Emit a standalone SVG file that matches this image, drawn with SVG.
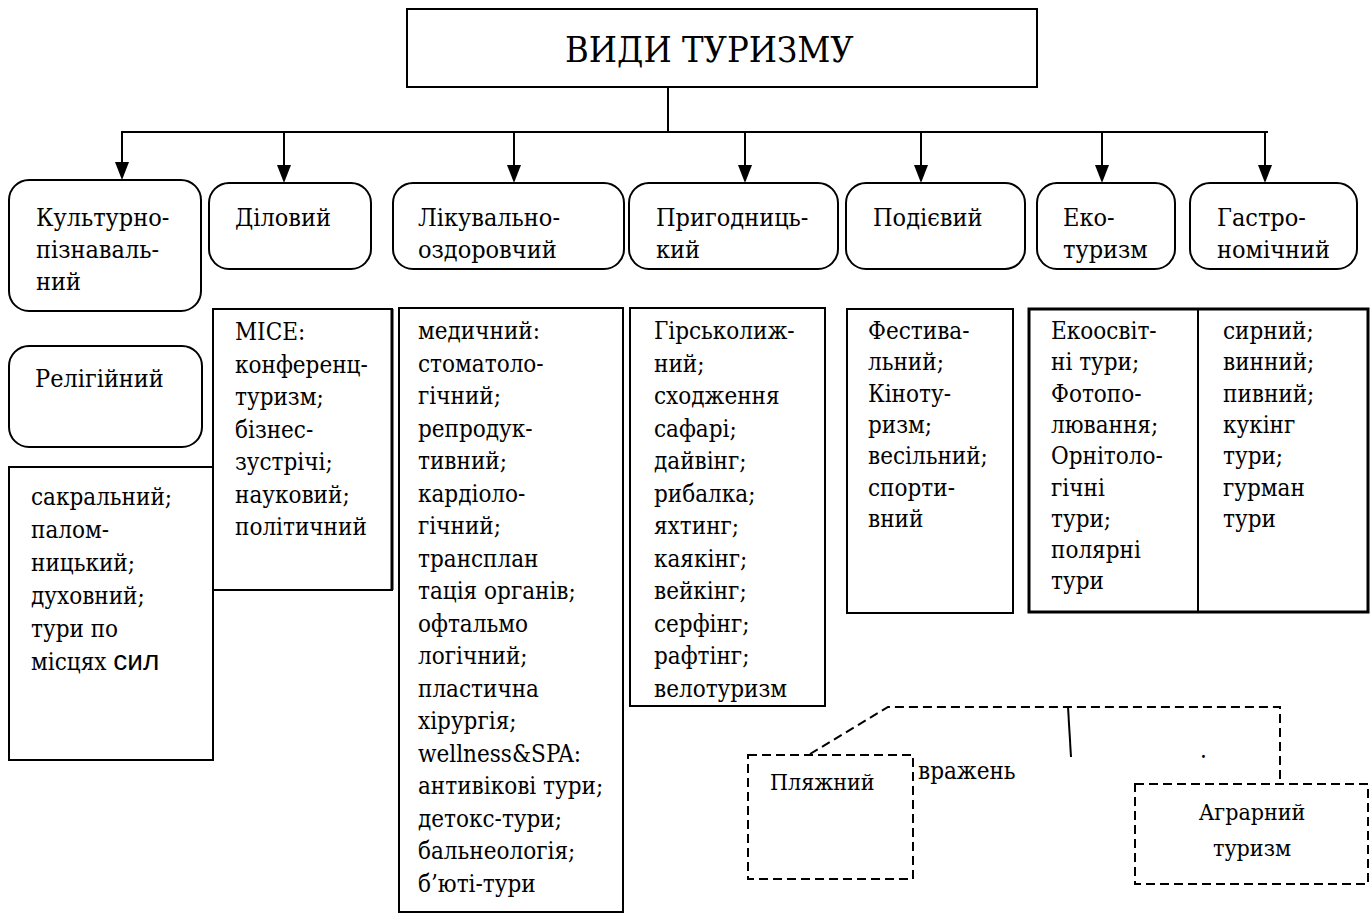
<svg xmlns="http://www.w3.org/2000/svg" width="1371" height="919" viewBox="0 0 1371 919">
<defs>
<style>
.box{fill:#fff;stroke:#000;stroke-width:2}
.thick{fill:#fff;stroke:#000;stroke-width:3}
.dash{fill:#fff;stroke:#000;stroke-width:2;stroke-dasharray:9 5}
.dl{fill:none;stroke:#000;stroke-width:2;stroke-dasharray:9 5}
.ln{fill:none;stroke:#000;stroke-width:2}
.t{font-family:"DejaVu Serif Condensed","DejaVu Serif","Liberation Serif",serif;font-stretch:condensed;font-size:24px;fill:#000}
.n{font-size:25px}
.b{font-size:23px}
.h{font-family:"DejaVu Serif Condensed","DejaVu Serif","Liberation Serif",serif;font-stretch:condensed;font-size:36px;fill:#000}
.s{font-family:"Liberation Sans",Arial,sans-serif;font-stretch:normal;font-size:28px}
</style>
</defs>
<rect width="1371" height="919" fill="#fff"/>

<g id="connectors">
<line class="ln" x1="668" y1="88" x2="668" y2="132"/>
<line class="ln" x1="121" y1="132" x2="1268" y2="132" stroke-width="2.5"/>
<line class="ln" x1="122" y1="132" x2="122" y2="162"/>
<path d="M115,162 L129,162 L122,180 Z"/>
<line class="ln" x1="284" y1="132" x2="284" y2="165"/>
<path d="M277,165 L291,165 L284,183 Z"/>
<line class="ln" x1="514" y1="132" x2="514" y2="165"/>
<path d="M507,165 L521,165 L514,183 Z"/>
<line class="ln" x1="745" y1="132" x2="745" y2="165"/>
<path d="M738,165 L752,165 L745,183 Z"/>
<line class="ln" x1="921" y1="132" x2="921" y2="165"/>
<path d="M914,165 L928,165 L921,183 Z"/>
<line class="ln" x1="1102" y1="132" x2="1102" y2="165"/>
<path d="M1095,165 L1109,165 L1102,183 Z"/>
<line class="ln" x1="1265" y1="132" x2="1265" y2="165"/>
<path d="M1258,165 L1272,165 L1265,183 Z"/>
<polyline class="dl" points="810,754 888,707 1280,707 1280,784"/>
<line class="ln" x1="1068" y1="707" x2="1071" y2="757"/>
</g>

<g id="header">
<rect class="box" x="407" y="9" width="630" height="78"/>
<text class="h" x="565" y="62">ВИДИ ТУРИЗМУ</text>
</g>

<g id="n-kult">
<rect class="box" x="9" y="180" width="192" height="131" rx="20"/>
<text class="t n"><tspan x="36" y="226">Культурно-</tspan><tspan x="36" y="258">пізнаваль-</tspan><tspan x="36" y="290">ний</tspan></text>
</g>
<g id="n-dil">
<rect class="box" x="209" y="183" width="162" height="86" rx="20"/>
<text class="t n" x="235" y="226">Діловий</text>
</g>
<g id="n-lik">
<rect class="box" x="393" y="183" width="231" height="86" rx="20"/>
<text class="t n"><tspan x="418" y="226">Лікувально-</tspan><tspan x="418" y="258">оздоровчий</tspan></text>
</g>
<g id="n-pryg">
<rect class="box" x="629" y="183" width="209" height="86" rx="20"/>
<text class="t n"><tspan x="656" y="226">Пригодниць-</tspan><tspan x="656" y="258">кий</tspan></text>
</g>
<g id="n-pod">
<rect class="box" x="846" y="183" width="179" height="86" rx="20"/>
<text class="t n" x="873" y="226">Подієвий</text>
</g>
<g id="n-eko">
<rect class="box" x="1037" y="183" width="138" height="86" rx="20"/>
<text class="t n"><tspan x="1063" y="226">Еко-</tspan><tspan x="1063" y="258">туризм</tspan></text>
</g>
<g id="n-gastro">
<rect class="box" x="1190" y="183" width="167" height="86" rx="20"/>
<text class="t n"><tspan x="1217" y="226">Гастро-</tspan><tspan x="1217" y="258">номічний</tspan></text>
</g>

<g id="n-rel">
<rect class="box" x="9" y="346" width="193" height="101" rx="20"/>
<text class="t n" x="35" y="387">Релігійний</text>
</g>

<g id="l-sakr">
<rect class="box" x="9" y="467" width="204" height="293"/>
<text class="t"><tspan x="31" y="505">сакральний;</tspan><tspan x="31" y="538">палом-</tspan><tspan x="31" y="571">ницький;</tspan><tspan x="31" y="604">духовний;</tspan><tspan x="31" y="637">тури по</tspan><tspan x="31" y="670">місцях <tspan class="s">сил</tspan></tspan></text>
</g>

<g id="l-mice">
<rect class="box" x="213" y="309" width="179" height="281"/>
<line x1="392" y1="309" x2="392" y2="590" stroke="#000" stroke-width="3"/>
<text class="t"><tspan x="235" y="340">MICE:</tspan><tspan x="235" y="372.5">конференц-</tspan><tspan x="235" y="405">туризм;</tspan><tspan x="235" y="437.5">бізнес-</tspan><tspan x="235" y="470">зустрічі;</tspan><tspan x="235" y="502.5">науковий;</tspan><tspan x="235" y="535">політичний</tspan></text>
</g>

<g id="l-lik">
<rect class="box" x="399" y="308" width="224" height="604"/>
<text class="t"><tspan x="418" y="339">медичний:</tspan><tspan x="418" y="371.5">стоматоло-</tspan><tspan x="418" y="404">гічний;</tspan><tspan x="418" y="436.5">репродук-</tspan><tspan x="418" y="469">тивний;</tspan><tspan x="418" y="501.5">кардіоло-</tspan><tspan x="418" y="534">гічний;</tspan><tspan x="418" y="566.5">трансплан</tspan><tspan x="418" y="599">тація органів;</tspan><tspan x="418" y="631.5">офтальмо</tspan><tspan x="418" y="664">логічний;</tspan><tspan x="418" y="696.5">пластична</tspan><tspan x="418" y="729">хірургія;</tspan><tspan x="418" y="761.5">wellness&amp;SPA:</tspan><tspan x="418" y="794">антивікові тури;</tspan><tspan x="418" y="826.5">детокс-тури;</tspan><tspan x="418" y="859">бальнеологія;</tspan><tspan x="418" y="891.5">б’юті-тури</tspan></text>
</g>

<g id="l-pryg">
<rect class="box" x="630" y="308" width="195" height="398"/>
<text class="t"><tspan x="654" y="339">Гірськолиж-</tspan><tspan x="654" y="371.5">ний;</tspan><tspan x="654" y="404">сходження</tspan><tspan x="654" y="436.5">сафарі;</tspan><tspan x="654" y="469">дайвінг;</tspan><tspan x="654" y="501.5">рибалка;</tspan><tspan x="654" y="534">яхтинг;</tspan><tspan x="654" y="566.5">каякінг;</tspan><tspan x="654" y="599">вейкінг;</tspan><tspan x="654" y="631.5">серфінг;</tspan><tspan x="654" y="664">рафтінг;</tspan><tspan x="654" y="696.5">велотуризм</tspan></text>
</g>

<g id="l-pod">
<rect class="box" x="847" y="309" width="166" height="304"/>
<text class="t"><tspan x="868" y="339">Фестива-</tspan><tspan x="868" y="370.3">льний;</tspan><tspan x="868" y="401.6">Кіноту-</tspan><tspan x="868" y="432.9">ризм;</tspan><tspan x="868" y="464.2">весільний;</tspan><tspan x="868" y="495.5">спорти-</tspan><tspan x="868" y="526.8">вний</tspan></text>
</g>

<g id="l-eko-gastro">
<rect class="thick" x="1029" y="309" width="339" height="303"/>
<line x1="1198" y1="309" x2="1198" y2="612" stroke="#000" stroke-width="2"/>
<text class="t"><tspan x="1051" y="339">Екоосвіт-</tspan><tspan x="1051" y="370.3">ні тури;</tspan><tspan x="1051" y="401.6">Фотопо-</tspan><tspan x="1051" y="432.9">лювання;</tspan><tspan x="1051" y="464.2">Орнітоло-</tspan><tspan x="1051" y="495.5">гічні</tspan><tspan x="1051" y="526.8">тури;</tspan><tspan x="1051" y="558.1">полярні</tspan><tspan x="1051" y="589.4">тури</tspan></text>
<text class="t"><tspan x="1223" y="339">сирний;</tspan><tspan x="1223" y="370.3">винний;</tspan><tspan x="1223" y="401.6">пивний;</tspan><tspan x="1223" y="432.9">кукінг</tspan><tspan x="1223" y="464.2">тури;</tspan><tspan x="1223" y="495.5">гурман</tspan><tspan x="1223" y="526.8">тури</tspan></text>
</g>

<g id="n-plyazh">
<rect class="dash" x="748" y="755" width="165" height="124"/>
<text class="t b" x="770" y="790">Пляжний</text>
</g>
<g id="label-vrazhen">
<text class="t" x="918" y="779">вражень</text>
<text class="t" x="1200" y="758">.</text>
</g>
<g id="n-agrar">
<rect class="dash" x="1135" y="784" width="233" height="100"/>
<text class="t b" text-anchor="middle"><tspan x="1252" y="820">Аграрний</tspan><tspan x="1252" y="856">туризм</tspan></text>
</g>
</svg>
